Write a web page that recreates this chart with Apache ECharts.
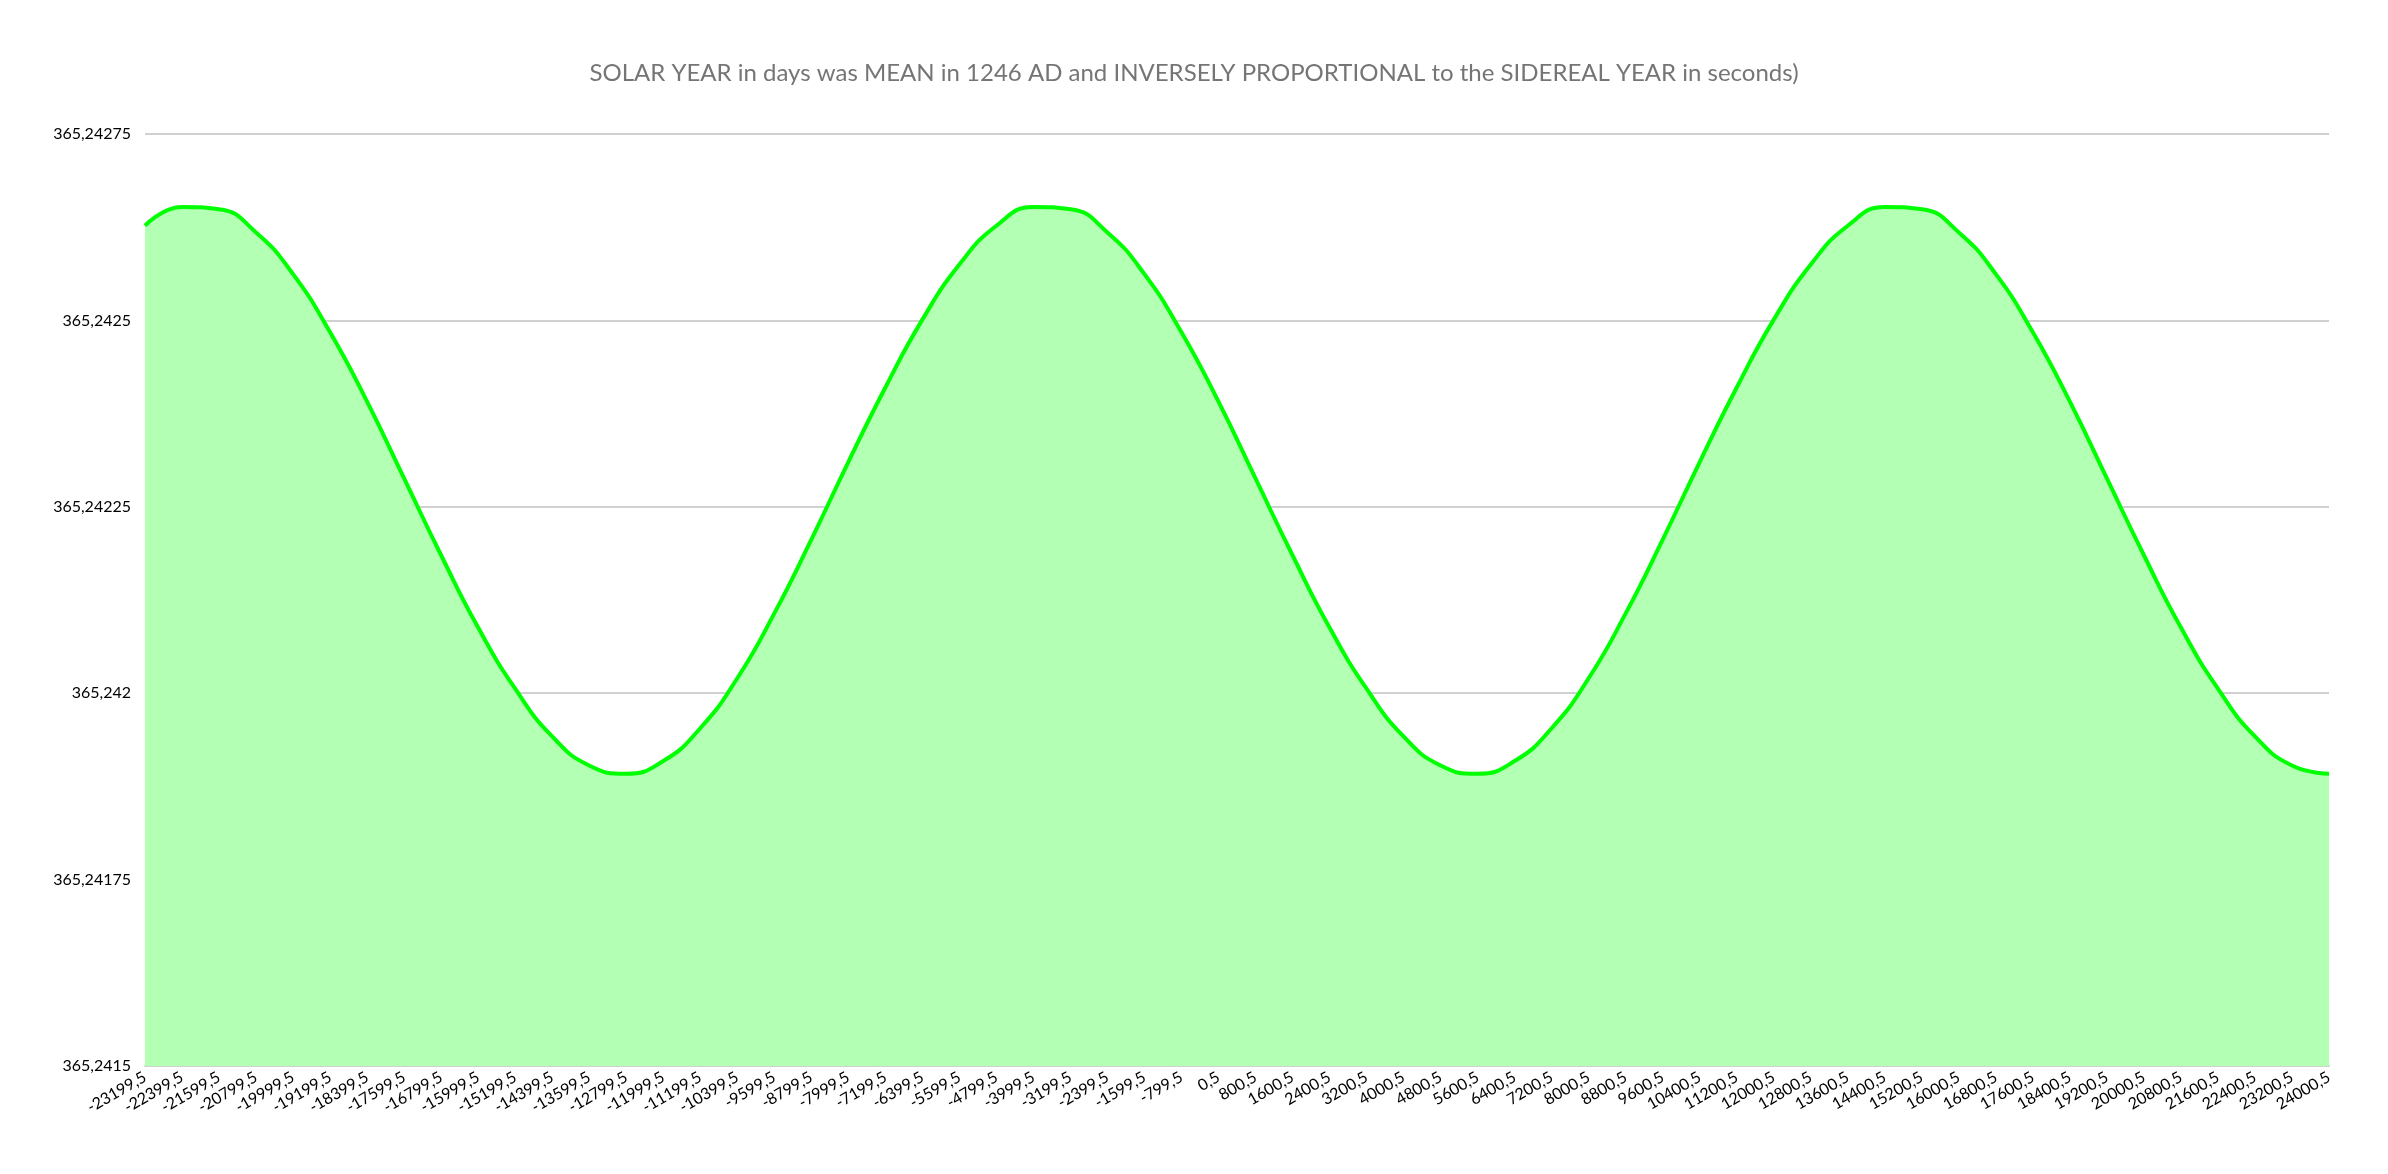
<!DOCTYPE html>
<html><head><meta charset="utf-8">
<script src="https://cdn.jsdelivr.net/npm/echarts@6/dist/echarts.min.js"></script>
<style>html,body{margin:0;padding:0;background:#fff}#c{width:2388px;height:1174px}</style>
</head><body><div id="c"></div>
<script>
const titleText = 'SOLAR YEAR in days was MEAN in 1246 AD and INVERSELY PROPORTIONAL to the SIDEREAL YEAR in seconds)';
const years = [-23199.5,-22399.5,-21599.5,-20799.5,-19999.5,-19199.5,-18399.5,-17599.5,-16799.5,-15999.5,-15199.5,-14399.5,-13599.5,-12799.5,-11999.5,-11199.5,-10399.5,-9599.5,-8799.5,-7999.5,-7199.5,-6399.5,-5599.5,-4799.5,-3999.5,-3199.5,-2399.5,-1599.5,-799.5,0.5,800.5,1600.5,2400.5,3200.5,4000.5,4800.5,5600.5,6400.5,7200.5,8000.5,8800.5,9600.5,10400.5,11200.5,12000.5,12800.5,13600.5,14400.5,15200.5,16000.5,16800.5,17600.5,18400.5,19200.5,20000.5,20800.5,21600.5,22400.5,23200.5,24000.5];
const solarYear = [
365.242627,365.242652,365.242649,365.242618,365.242562,365.242484,365.242391,365.242288,365.242185,365.242088,
365.242006,365.241942,365.241903,365.241892,365.241909,365.241953,365.242020,365.242107,365.242206,365.242310,
365.242410,365.242501,365.242575,365.242627,365.242652,365.242649,365.242618,365.242562,365.242484,365.242391,
365.242288,365.242185,365.242088,365.242006,365.241942,365.241903,365.241892,365.241909,365.241953,365.242020,
365.242107,365.242206,365.242310,365.242410,365.242501,365.242575,365.242627,365.242652,365.242649,365.242618,
365.242562,365.242484,365.242391,365.242288,365.242185,365.242088,365.242006,365.241942,365.241903,365.241892];
const fmt = v => String(v).replace('.', ',');
const chart = echarts.init(document.getElementById('c'));
chart.setOption({
  animation:false,
  textStyle:{fontFamily:'Lato'},
  title:{text:titleText,left:'center',top:56,textStyle:{fontSize:24,fontWeight:'normal',color:'#757575',fontFamily:'Lato'}},
  grid:{left:145,right:59,top:134,bottom:108},
  xAxis:{type:'category',data:years,boundaryGap:false,
    axisLine:{lineStyle:{color:'#d0d0d0',width:2}},axisTick:{show:false},
    axisLabel:{interval:0,rotate:30,fontSize:16,color:'#000',formatter:fmt,margin:10}},
  yAxis:{type:'value',min:365.2415,max:365.24275,interval:0.00025,
    axisLine:{show:false},axisTick:{show:false},
    splitLine:{lineStyle:{color:'#c0c0c0',width:1.5}},
    axisLabel:{fontSize:16,color:'#000',margin:14,formatter:v=>fmt(parseFloat(v.toFixed(5)))}},
  series:[{type:'line',data:solarYear,smooth:true,symbol:'none',
    lineStyle:{color:'#00ff00',width:4},areaStyle:{color:'#b3ffb3',opacity:1,origin:'start'}}]
});
</script></body></html>
